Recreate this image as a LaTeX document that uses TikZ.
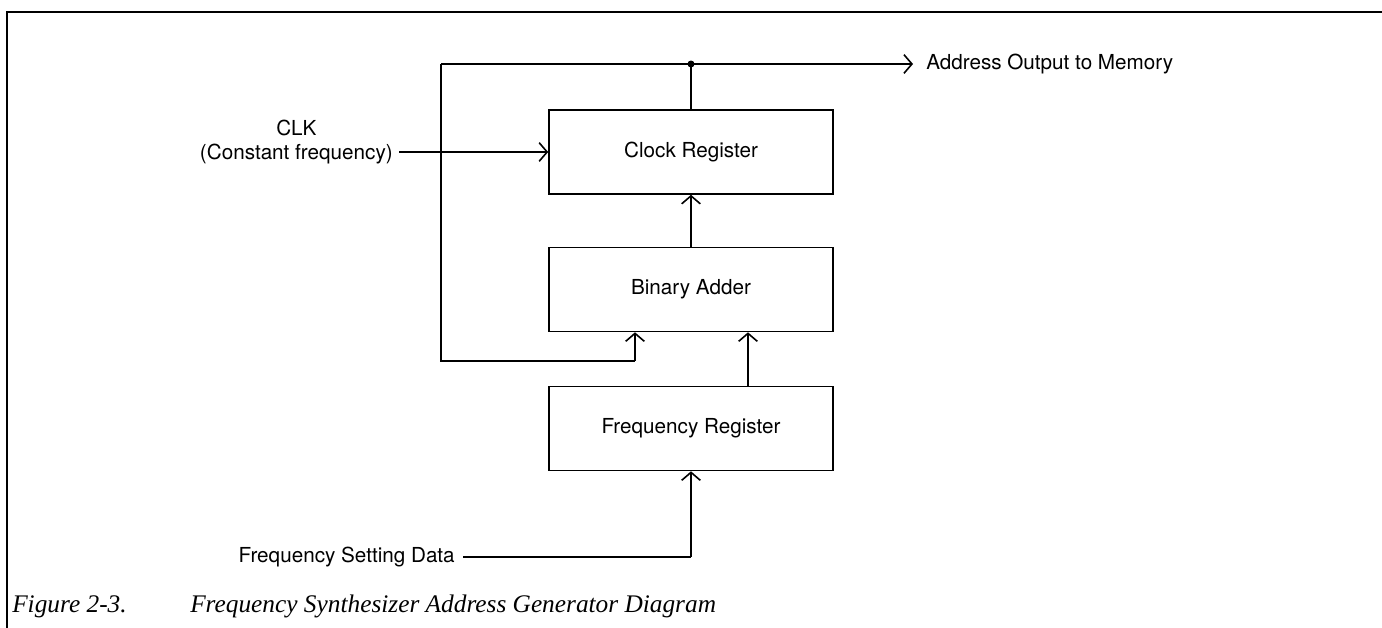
\documentclass[tikz,border=0pt]{standalone}
\usepackage{fontspec}
\setmainfont{TeX Gyre Heros}
\newfontfamily\capfont{Liberation Serif}
\usetikzlibrary{arrows.meta}
\begin{document}
\begin{tikzpicture}[x=0.75pt,y=-0.75pt,
  blk/.style={draw,line width=1.2pt,minimum width=213pt,minimum height=63pt,inner sep=0pt,font=\fontsize{15.5}{18}\selectfont},
  wire/.style={line width=1.2pt},
  arr/.style={wire,-{Straight Barb[length=6pt,width=14pt,line width=1.2pt]}},
  lbl/.style={font=\fontsize{15.5}{18}\selectfont,inner sep=0pt},
  captext/.style={font=\capfont\itshape\fontsize{19}{23}\selectfont,inner sep=0pt,anchor=base west}]
\useasboundingbox (0,0) rectangle (1382,628);
% frame
\draw[line width=2.2pt] (6,12) -- (1382,12);
\draw[line width=1.5pt] (7,12) -- (7,628);
% blocks
\node[blk] (clk) at (691,152) {Clock Register};
\node[blk] (add) at (691,289.5) {Binary Adder};
\node[blk] (frq) at (691,428.5) {Frequency Register};
% helper coordinates
\coordinate (dot) at (691,64);
\coordinate (tl) at (441,64);
\coordinate (bl) at (441,361);
\coordinate (br) at (635,361);
\coordinate (out) at (913,64);
\coordinate (fd) at (691,557);
% labels
\node[lbl,anchor=west] (aout) at (926,64) {Address Output to Memory};
\node[lbl,align=center,anchor=east] (clkin) at (393,142) {CLK\\(Constant frequency)};
\node[lbl,anchor=east] (fsd) at (455,557) {Frequency Setting Data};
% connectors
\draw[wire] (clk.north) -- (dot);
\fill (dot) circle (3.5);
\draw[arr] (tl) -- (out);
\draw[wire] (tl) -- (bl) -- (br);
\draw[arr] (br) -- (br |- add.south);
\draw[arr] (add.north) -- (clk.south);
\draw[arr] (748,0 |- frq.north) -- (748,0 |- add.south);
\draw[arr] (clkin.east |- clk.west) ++(6,0) -- (clk.west);
\draw[wire] (fsd.east) ++(8,0) -- (fd);
\draw[arr] (fd) -- (frq.south);
% caption
\node[captext] (fig) at (12,612) {Figure 2-3.};
\node[captext] (title) at (190,612) {Frequency Synthesizer Address Generator Diagram};
\end{tikzpicture}
\end{document}
